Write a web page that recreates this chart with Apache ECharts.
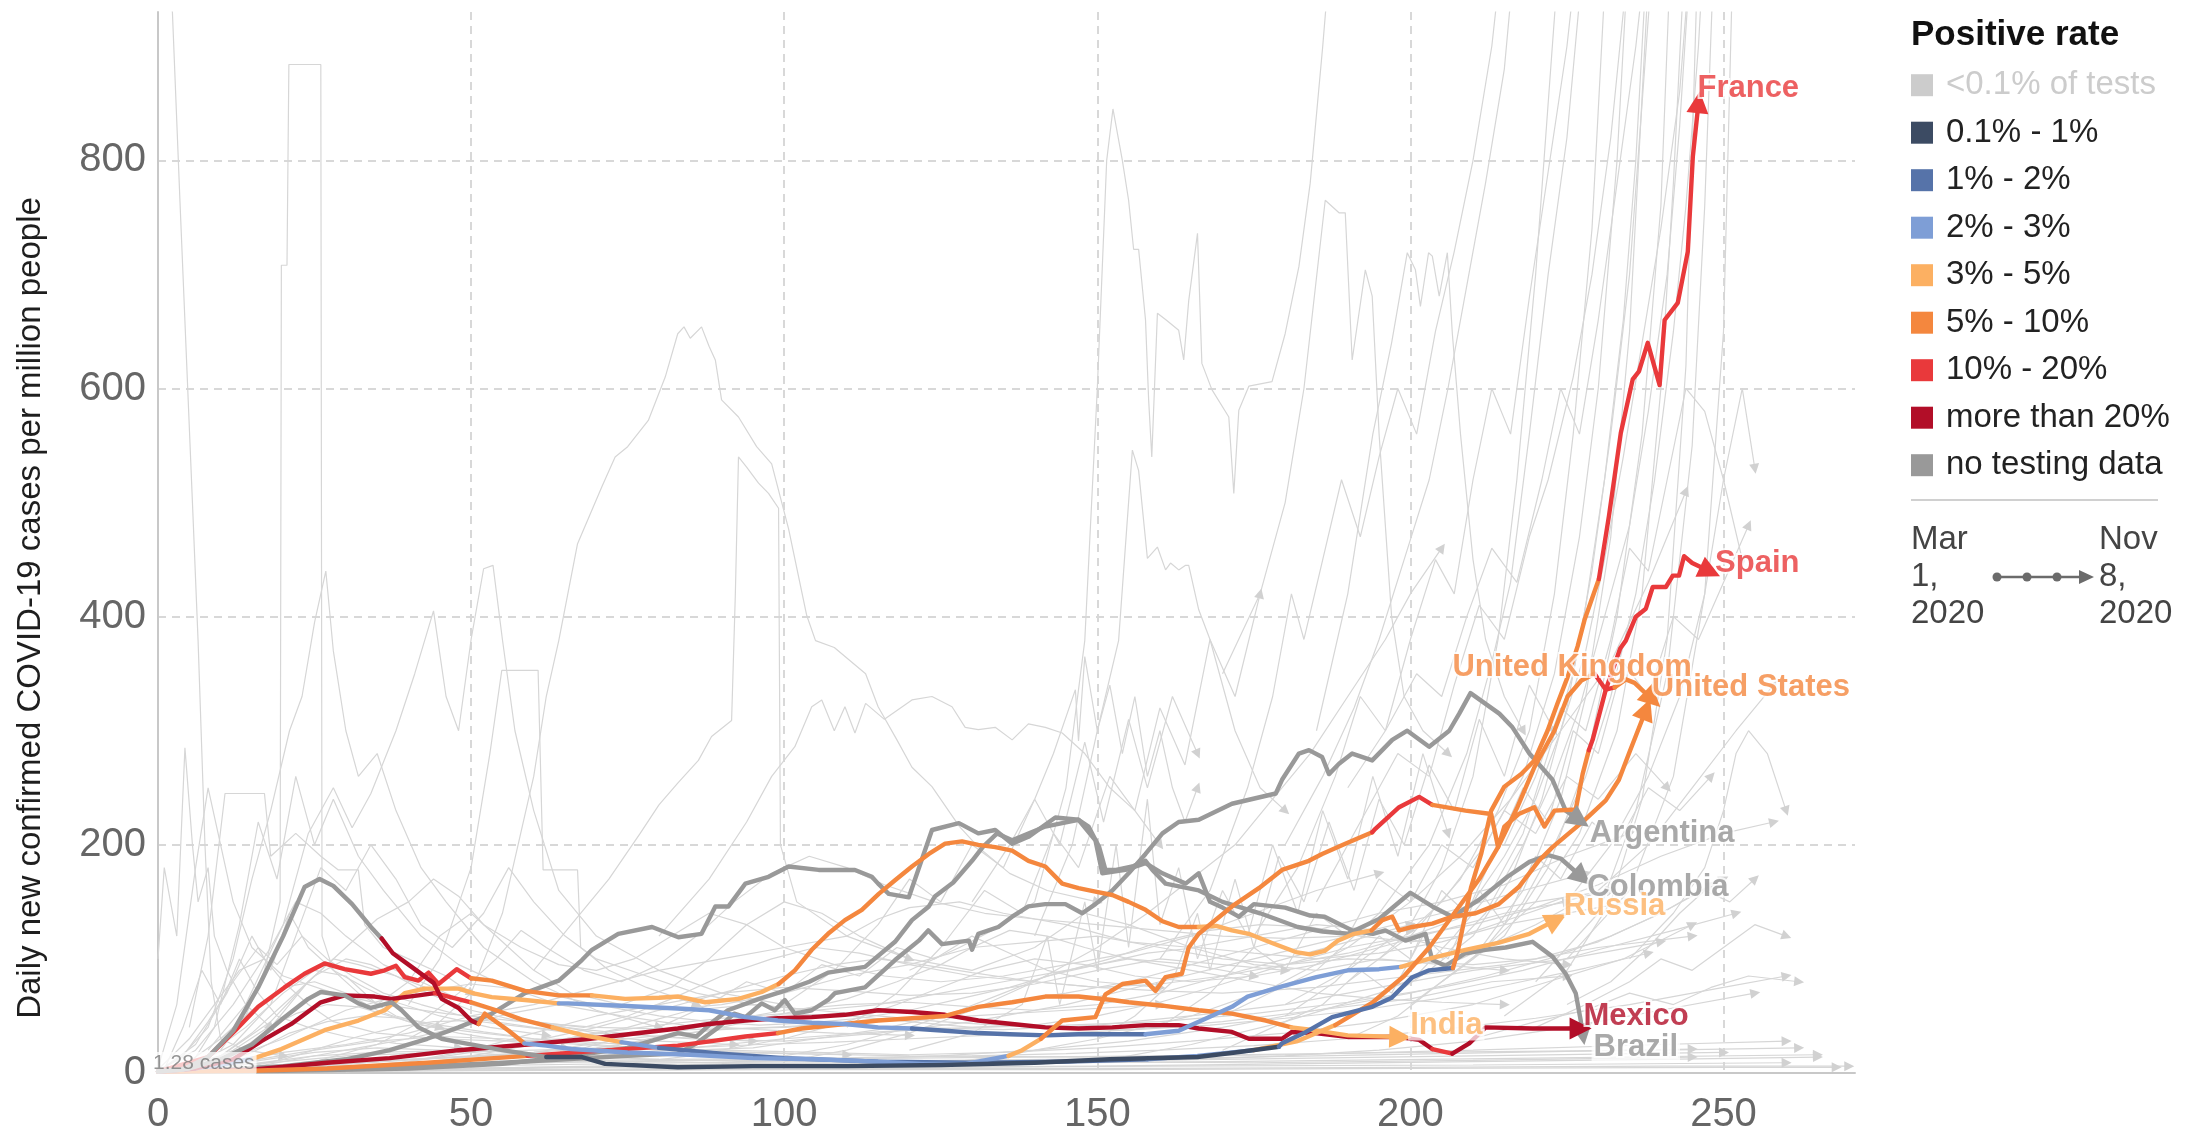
<!DOCTYPE html>
<html><head><meta charset="utf-8">
<script src="https://cdn.jsdelivr.net/npm/echarts@6/dist/echarts.min.js"></script>
<style>html,body{margin:0;padding:0;background:#fff}#c{width:2190px;height:1137px}</style>
</head><body><div id="c"></div>
<script>
// ---------- axis ticks ----------
const xTickValues = [0, 50, 100, 150, 200, 250];
const yTickValues = [0, 200, 400, 600, 800];

// ---------- legend ----------
const rateKeys = ['z', 'n', 'b', 'l', 'o', 'O', 'r', 'R', 'g'];
const rateLabels = ['<0.1% of tests', '0.1% - 1%', '1% - 2%', '2% - 3%', '3% - 5%', '5% - 10%', '10% - 20%', 'more than 20%', 'no testing data'];

// ---------- highlighted countries: [day, cases per million, positive-rate class] ----------
const spain = [[0,1.3,'g'],[4,3,'g'],[8,14,'g'],[12,37,'g'],[16,75,'g'],[20,120,'g'],[23.4,163,'g'],[25.8,170,'g'],[28,164,'g'],[31,148,'g'],[34,128,'g'],[35.7,118,'g'],[37.5,105,'R'],[40.5,93,'R'],[44,79,'R'],[45.3,65,'R'],[48,57,'R'],[50,46,'R'],[51.2,43,'R'],[52.2,52,'O'],[56,37,'O'],[58.5,26,'O'],[62,24,'l'],[66,21,'l'],[75,18,'l'],[85,16,'l'],[95,13,'l'],[105,12,'l'],[115,10,'l'],[122,8,'l'],[129,8,'l'],[135.8,15,'l'],[138,20,'o'],[141,30,'o'],[144.4,46,'O'],[149.7,49,'O'],[151.3,69,'O'],[154,78,'O'],[157.7,81,'O'],[159.3,72,'O'],[160.9,84,'O'],[163.5,87,'O'],[164.6,110,'O'],[166.2,122,'O'],[171.5,146,'O'],[175.8,162,'O'],[179.5,178,'O'],[183.8,186,'O'],[185.9,192,'O'],[189.6,201,'O'],[193.9,211,'O'],[194.4,214,'r'],[198.2,233,'r'],[201.4,242,'r'],[203.5,235,'r'],[205.6,233,'O'],[208.8,230,'O'],[212.9,227,'O'],[214,198,'O'],[215,216,'O'],[217.3,227,'O'],[219.8,233,'O'],[221.4,216,'O'],[223,230,'O'],[226.4,231,'O'],[227.5,262,'O'],[228.5,283,'O'],[229.1,292,'r'],[231.2,336,'r'],[233.5,372,'r'],[234.4,379,'r'],[236,400,'r'],[237.6,407,'r'],[238.7,426,'r'],[240.8,426,'r'],[241.9,436,'r'],[242.9,436,'r'],[243.7,453,'r'],[245,447,'r'],[247.7,440,'r']];
const france = [[0,1.3,'g'],[5,4,'g'],[10,12,'g'],[15,25,'g'],[20,48,'g'],[24,65,'g'],[26,71,'g'],[29.8,68,'g'],[32,61,'g'],[34,57,'g'],[37.3,62,'g'],[38.9,55,'g'],[41.6,40,'g'],[45.3,30,'g'],[48,27,'g'],[55,20,'g'],[62,14,'g'],[67.7,14,'n'],[71.4,8,'n'],[83,5,'n'],[95,6,'n'],[110,6,'n'],[125,7,'n'],[140,9,'n'],[152,12,'n'],[166,14,'n'],[172,18,'n'],[179,23,'n'],[179.5,26,'b'],[183,35,'b'],[187.5,49,'b'],[193.9,58,'b'],[197,66,'b'],[200.3,84,'b'],[203,90,'b'],[206.8,92,'b'],[207.5,105,'O'],[208.6,134,'O'],[209.7,163,'O'],[211.3,192,'O'],[212.9,230,'O'],[215,251,'O'],[217.7,262,'O'],[219.8,274,'O'],[221.9,300,'O'],[223.5,324,'O'],[225.1,347,'O'],[226.7,374,'O'],[227.8,397,'O'],[230.1,433,'O'],[231.7,488,'r'],[233.6,561,'r'],[235.5,608,'r'],[236.5,615,'r'],[237.9,640,'r'],[239.8,603,'r'],[240.6,660,'r'],[242.7,675,'r'],[244.3,720,'r'],[245.1,803,'r'],[246,850,'r']];
const unitedKingdom = [[0,1.3,'R'],[6,4,'R'],[12,12,'R'],[16.5,28,'R'],[21.3,43,'R'],[26,62,'R'],[29.8,68,'R'],[34.6,67,'R'],[37.3,65,'R'],[41.6,68,'R'],[44.2,70,'R'],[47,66,'r'],[50,62,'r'],[54,55,'O'],[58,47,'O'],[63,40,'O'],[68,33,'o'],[74,27,'o'],[80,22,'l'],[90,17,'b'],[100,13,'b'],[115,10,'b'],[130,9,'b'],[145,10,'b'],[158,12,'b'],[166,15,'l'],[175,20,'l'],[182,28,'o'],[188,42,'o'],[194,62,'O'],[199,85,'O'],[203,110,'O'],[207,140,'O'],[211,170,'O'],[214,198,'O'],[217,232,'O'],[219.8,268,'O'],[223,300,'O'],[225.1,330,'O'],[227.3,344,'O'],[229.4,350,'O'],[231.2,336,'r'],[232.6,338,'r'],[234.4,345,'O'],[235.8,342,'O'],[238.5,328,'O']];
const unitedStates = [[0,1.3,'r'],[8,14,'r'],[12.3,37,'r'],[16,58,'r'],[20.2,75,'r'],[23.4,87,'r'],[26.6,96,'r'],[29.8,91,'r'],[34,87,'r'],[36.2,90,'r'],[38,94,'r'],[39.4,84,'r'],[41.6,81,'r'],[43.2,88,'r'],[44.8,78,'r'],[47.7,91,'r'],[50,83,'r'],[53.3,81,'O'],[58.6,72,'O'],[64,68,'O'],[69.3,68,'O'],[74.6,65,'o'],[80,66,'o'],[83.1,67,'o'],[87.4,62,'o'],[92.7,65,'o'],[96.4,71,'o'],[99.1,78,'o'],[101.7,90,'O'],[104.4,108,'O'],[107,122,'O'],[109.7,134,'O'],[112.4,143,'O'],[115.1,157,'O'],[117.7,169,'O'],[120.4,181,'O'],[123.1,192,'O'],[125.7,201,'O'],[128.4,203,'O'],[131,200,'O'],[133.7,198,'O'],[136.4,195,'O'],[139,186,'O'],[141.7,181,'O'],[144.4,166,'O'],[147,162,'O'],[149.7,159,'O'],[152.4,156,'O'],[155,150,'O'],[157.7,143,'O'],[160.4,133,'O'],[163,128,'O'],[166.2,128,'O'],[169,129,'o'],[171.5,125,'o'],[174.2,122,'o'],[177.9,114,'o'],[181.7,106,'o'],[184,104,'o'],[186.3,107,'o'],[188.4,116,'o'],[191,122,'o'],[193.8,125,'o'],[195.5,134,'O'],[197.1,137,'O'],[198.2,125,'O'],[200.3,128,'O'],[203.5,131,'O'],[206.7,137,'O'],[210.4,140,'O'],[214.1,148,'O'],[217.3,163,'O'],[220.5,186,'O'],[222.7,198,'O'],[225.3,210,'O'],[227.9,222,'O'],[231.2,239,'O'],[233.3,257,'O'],[234.9,280,'O'],[237.6,318,'O']];
const russia = [[0,1.3,'l'],[6,4,'l'],[10,7,'l'],[15.4,13,'l'],[19.7,21,'o'],[26.6,37.5,'o'],[32,46,'o'],[36.2,55,'o'],[39.4,70,'o'],[42.6,74,'o'],[48,74,'o'],[50.6,69.5,'o'],[53.3,66.5,'o'],[58.6,64,'o'],[64,61,'o'],[65.5,61,'l'],[74,59,'l'],[83,56.5,'l'],[88,55,'l'],[93.8,49,'l'],[99,46,'l'],[104.4,44,'l'],[109.7,43,'l'],[115,40,'l'],[120.4,39,'l'],[125.7,37,'b'],[131,35,'b'],[136,34,'b'],[142,33,'b'],[147,34,'b'],[152,34,'b'],[157.7,34,'b'],[163,37,'l'],[166.2,45,'l'],[171.5,58,'l'],[174,67,'l'],[179.5,76,'l'],[185,84,'l'],[190,90,'l'],[195,91,'l'],[198.5,93,'l'],[203.5,101,'o'],[208.8,108,'o'],[214,114,'o'],[219,122,'o'],[223.2,134,'o']];
const india = [[0,1.3,'O'],[15,2,'O'],[27,4,'O'],[43,9,'O'],[59,15,'O'],[69,19,'r'],[83,24,'r'],[88.4,28,'r'],[93.8,32,'r'],[99,35,'r'],[102.8,39,'O'],[109.7,43,'O'],[115,46,'O'],[120.4,48,'O'],[125.7,50,'O'],[131,58,'O'],[136.4,62,'O'],[141.7,67,'O'],[147,67,'O'],[152.4,64,'O'],[155,62,'O'],[160.4,59,'O'],[166.2,55,'O'],[171.5,52,'O'],[176.9,46,'O'],[181,40,'O'],[184,38,'o'],[190,33,'o'],[198.2,31.5,'o']];
const mexico = [[0,1.3,'R'],[15,3,'R'],[27,9,'R'],[37,13,'R'],[48,20,'R'],[59,25,'R'],[69,30,'R'],[83,39,'R'],[88,43,'R'],[93.8,46,'R'],[99,48,'R'],[104.4,49,'R'],[109.7,51,'R'],[115,55,'R'],[120.4,53.5,'R'],[125.7,51,'R'],[131,46,'R'],[136.4,43,'R'],[141.7,40,'R'],[147,39,'R'],[152.4,40,'R'],[157.7,42,'R'],[163,42,'R'],[166.2,39,'R'],[171.5,36,'R'],[174.2,30,'R'],[179.5,30,'R'],[181.1,36,'R'],[184.8,35,'R'],[190.2,31.5,'R'],[198.2,31.5,'R'],[201.4,29,'R'],[203.5,21,'R'],[206.7,17,'r'],[209.4,26,'R'],[212,40,'R'],[219.5,39,'R'],[223.7,39,'R'],[227,39,'R']];
const argentina = [[0,1.3,'g'],[20,3,'g'],[40,5,'g'],[55,9,'g'],[65,12,'g'],[75,15,'g'],[83,17,'g'],[86,26,'g'],[89.5,40,'g'],[92,52,'g'],[93.8,49,'g'],[96.4,61,'g'],[98.5,55,'g'],[100.1,64,'g'],[101.7,52,'g'],[104.4,55,'g'],[107,64,'g'],[108.1,70,'g'],[112.9,75,'g'],[117.7,99,'g'],[121.5,116,'g'],[123,125,'g'],[125.2,113,'g'],[129.5,116,'g'],[130,108,'g'],[131,122,'g'],[134.2,128,'g'],[136.4,137,'g'],[139,146,'g'],[141.7,148,'g'],[144.9,148,'g'],[147.6,140,'g'],[149.7,148,'g'],[152.4,160,'g'],[155,175,'g'],[157.7,192,'g'],[160.4,210,'g'],[163,220,'g'],[166.2,222,'g'],[171.5,236,'g'],[178.5,245,'g'],[179.5,257,'g'],[182.2,280,'g'],[183.8,283,'g'],[185.9,277,'g'],[187,262,'g'],[188.6,271,'g'],[190.7,280,'g'],[193.9,274,'g'],[197.1,292,'g'],[199.5,300,'g'],[203,286,'g'],[206.2,300,'g'],[207.8,315,'g'],[209.6,333,'g'],[214.2,315,'g'],[216.3,303,'g'],[219,280,'g'],[222.7,257,'g'],[224.8,230,'g'],[226.9,222,'g']];
const colombia = [[0,1.3,'g'],[20,2,'g'],[40,4,'g'],[55,8,'g'],[65,14,'g'],[75,22,'g'],[83,35,'g'],[86,32,'g'],[88.4,44,'g'],[91,55,'g'],[96,65,'g'],[100,72,'g'],[104,80,'g'],[107,88,'g'],[112.9,93,'g'],[117.7,115,'g'],[120.4,134,'g'],[123.1,146,'g'],[124.1,155,'g'],[127,167,'g'],[130,186,'g'],[131.7,198,'g'],[134,210,'g'],[136.4,204,'g'],[139,210,'g'],[141.7,216,'g'],[144.4,219,'g'],[147,222,'g'],[148.6,216,'g'],[150.3,198,'g'],[151.3,178,'g'],[153,178,'g'],[155.6,181,'g'],[157.7,186,'g'],[158.8,178,'g'],[160.9,166,'g'],[166.2,160,'g'],[170,150,'g'],[176,140,'g'],[182,128,'g'],[186,124,'g'],[190,122,'g'],[195,135,'g'],[200,158,'g'],[203.5,146,'g'],[206.7,137,'g'],[211,152,'g'],[215.5,172,'g'],[219,185,'g'],[222,191,'g'],[224,188,'g'],[227.3,172,'g']];
const brazil = [[0,1.3,'g'],[10,3,'g'],[20,6,'g'],[30,12,'g'],[37,20,'g'],[43,30,'g'],[48,40,'g'],[53.3,52,'g'],[58.6,70,'g'],[64,81,'g'],[67.7,99,'g'],[69.3,108,'g'],[73.5,122,'g'],[78.9,128,'g'],[83.1,119,'g'],[86.8,122,'g'],[89,146,'g'],[91.1,146,'g'],[93.8,166,'g'],[97.5,172,'g'],[100.7,181,'g'],[105.5,178,'g'],[111.3,178,'g'],[114,172,'g'],[115,166,'g'],[116.7,157,'g'],[119.9,154,'g'],[123.6,213,'g'],[127.9,219,'g'],[131,210,'g'],[133.7,213,'g'],[136.4,201,'g'],[139,207,'g'],[143.3,224,'g'],[147,222,'g'],[149.7,204,'g'],[150.8,175,'g'],[154.5,178,'g'],[157.7,184,'g'],[160.4,175,'g'],[164.1,166,'g'],[166.2,175,'g'],[168,150,'g'],[170,145,'g'],[172.6,137,'g'],[175,148,'g'],[180,145,'g'],[184,138,'g'],[186.3,137,'g'],[190.7,125,'g'],[194,122,'g'],[196,125,'g'],[199.2,116,'g'],[202.4,122,'g'],[203.5,99,'g'],[205.6,94,'g'],[208.8,105,'g'],[212,108,'g'],[215.2,110,'g'],[219.5,115,'g'],[222.7,102,'g'],[224.8,87,'g'],[226.4,70,'g'],[227.2,46,'g'],[227.5,35,'g']];

// ---------- other countries (thin grey lines): [day, cases per million] ----------
const bg01 = [[0,1000],[2.3,930],[3.5,765],[5.5,500],[6.4,379],[7.5,200],[8.5,80],[10,30],[14,20],[20,15]];
const bg02 = [[0,100],[1,180],[2,150],[3,120],[4.3,285],[5.5,200],[6.4,150],[8,180],[9,120],[11,90],[14,60],[18,40]];
const bg03 = [[10,20],[14,50],[17,90],[19.5,150],[19.7,708],[20.6,708],[20.9,884],[26,884],[26.2,120],[28,90],[32,70],[38,50],[45,40]];
const bg04 = [[3,10],[8,40],[12,100],[15,170],[18,230],[21,300],[23,330],[25,395],[26.8,440],[28,370],[30,300],[32,260],[35,280],[38,230],[42,180],[46,150],[52,110],[60,80],[70,55],[80,40]];
const bg05 = [[8,20],[14,60],[20,130],[24,210],[28,250],[31,215],[34,245],[38,300],[41,350],[44,405],[46,330],[48,300],[50,380],[52,442],[53.5,445],[55,380],[57,300],[60,230],[64,160],[70,120],[80,90],[90,70],[100,60]];
const bg06 = [[5,40],[8,120],[10.7,245],[17,245],[18,190],[22,210],[26,190],[28.8,178],[32,178],[33,130],[36,110],[40,100],[46,85],[50,70]];
const bg07 = [[40,60],[45,100],[50,180],[53,280],[54.9,353],[60.7,353],[61.5,178],[67,178],[67.5,110],[72,90],[78,75],[86,60]];
const bg08 = [[40,30],[45,45],[50,70],[55,140],[60,260],[62,330],[64,379],[67,464],[70.9,514],[73,540],[75,549],[78.3,572],[81,610],[83,648],[84,654],[85,644],[86.8,654],[88,637],[89,625],[90,590],[92.7,575],[95.6,549],[98,534],[100.7,477],[103.6,401],[105,379],[108,373],[113,350],[115,321],[118,292],[120.4,268],[123.6,251],[128,216],[131,198],[136,175],[142,160],[150,150]];
const bg09 = [[60,90],[66,130],[72,170],[77,210],[80,235],[83,254],[86.3,274],[88.4,295],[91.6,309],[92.2,420],[92.7,540],[94,531],[95.9,517],[97.5,508],[99.1,495],[99.4,200],[102,150],[110,120],[120,100]];
const bg10 = [[120,90],[128,110],[135,130],[140,150],[145,250],[148,379],[150,600],[151.5,800],[152.5,845],[154,800],[155,765],[155.8,722],[156.6,722],[157.7,660],[158.2,590],[158.7,540],[159.6,666],[161,660],[163,651],[163.8,625],[164.6,677],[166,736],[166.7,622],[168.3,599],[171,575],[171.8,508],[172.6,581],[174.2,602],[177.9,606],[180,648],[182.2,707],[184,780],[186,900],[187.5,1000]];
const bg11 = [[140,120],[146,200],[150,300],[153.4,379],[155.6,546],[156.6,528],[158,451],[159.6,461],[160.9,441],[161.7,447],[163,441],[164.1,445],[164.6,445],[166.2,406],[168,380],[172,300],[176,250],[180,230]];
const bg12 = [[180,60],[190,90],[200,130],[205,180],[210,260],[214,380],[217,520],[220,700],[222,850],[224,1000]];
const bg13 = [[170,50],[185,90],[195,140],[203,200],[209,280],[213,360],[216,430],[219,560],[222,700],[225,820],[228,1000]];
const bg14 = [[190,80],[200,120],[208,170],[214,230],[219,300],[223,420],[226,560],[229,740],[231.5,1000]];
const bg15 = [[195,100],[205,150],[212,200],[218,260],[223,350],[227,470],[230,600],[233,800],[235,1000]];
const bg16 = [[200,60],[210,100],[218,160],[224,240],[228,330],[232,470],[235,650],[238.4,1000]];
const bg17 = [[205,80],[215,120],[222,180],[228,270],[233,400],[237,560],[240,760],[241.7,1000]];
const bg18 = [[210,100],[220,150],[227,210],[233,300],[237,420],[240,600],[242,780],[244,1000]];
const bg19 = [[215,50],[225,90],[232,150],[237,240],[241,380],[244,620],[246,1000]];
const bg20 = [[220,80],[230,140],[236,230],[241,350],[245,550],[247,760],[248.6,1000]];
const bg21 = [[225,100],[235,160],[242,260],[247,420],[250,650],[251.6,1000]];
const bg22 = [[185,300],[190,420],[194,560],[197,640],[199.5,719],[200.8,704],[201.6,672],[202.9,719],[203.5,716],[204.6,681],[205.9,719],[206.7,648],[208,560],[210,450],[212,380],[215,330],[218,300]];
const bg23 = [[170,350],[176,420],[180,500],[183,600],[186.4,765],[188.6,754],[189.6,754],[190.7,625],[192.8,704],[193.9,681],[195,560],[197,400],[199,330],[202,300],[206,280]];
const bg24 = [[225,150],[232,200],[238,260],[243,330],[247,420],[250,520],[253,600],[255,530]];
const bg25 = [[235,100],[242,140],[247,180],[250,230],[252,280],[254,300],[257,280],[260,230]];
const bg26 = [[160,100],[168,160],[174,250],[178,330],[181,420],[183,380],[186,450],[189,520],[192,470],[195,540],[198,600],[201,560],[204,650],[207,720],[210,800],[213,900],[215,1000]];
const bg27 = [[175,120],[182,180],[188,260],[192,330],[196,300],[200,380],[204,450],[207,420],[210,520],[213,600],[216,560],[219,680],[222,790],[225,900],[227,1000]];
const bg28 = [[185,150],[192,220],[198,280],[203,260],[207,340],[211,410],[215,380],[219,470],[222,520],[226,610],[229,700],[232,820],[234,930],[235,1000]];
const bg29 = [[80,120],[88,170],[94,220],[98,260],[101.7,286],[104.4,321],[106,327],[108,300],[109.7,321],[111.3,298],[113,324],[116,310],[120.4,327],[123.6,330],[126.8,321],[128.9,303],[131,301],[133.7,303],[136.4,292],[139,306],[141.7,303],[144.4,298],[148,280],[152,250],[156,230],[160,200]];
const bg30 = [[130,150],[136,200],[140,240],[143,280],[146.5,336],[147,291],[148,365],[150,300],[152,340],[154,280],[156,330],[158,260],[160,300],[162,250],[164,220],[166,250]];
const lo01 = [[0,2],[6,20],[12,60],[18,110],[22,150],[26,140],[30,120],[36,95],[42,80],[50,60],[60,45],[70,35],[85,30],[100,28],[115,35],[130,45],[145,60],[160,80],[175,100],[190,120],[205,140],[218,160],[228,175]];
const lo02 = [[2,2],[10,10],[20,30],[30,55],[40,70],[50,78],[60,72],[70,60],[80,55],[90,60],[100,70],[110,85],[120,95],[130,110],[140,115],[150,120],[160,110],[170,100],[180,95],[190,105],[200,120],[210,140],[220,150],[232,160]];
const lo03 = [[0,1],[8,5],[16,12],[25,20],[35,28],[45,32],[55,30],[65,26],[75,22],[85,20],[95,22],[105,30],[115,38],[125,50],[135,62],[145,70],[155,80],[165,95],[175,110],[185,125],[195,140],[205,150],[215,165],[225,190],[235,210]];
const lo04 = [[5,3],[12,15],[18,40],[24,80],[28,100],[32,95],[38,85],[45,70],[52,58],[60,45],[68,40],[75,50],[82,65],[90,85],[98,100],[105,110],[112,105],[120,95],[130,85],[140,80],[150,75],[160,72],[170,70],[185,75],[200,85],[215,95],[230,110],[245,120]];
const lo05 = [[0,1],[10,8],[20,18],[30,25],[40,35],[50,50],[60,60],[70,75],[80,90],[90,100],[100,110],[110,120],[115,135],[120,145],[128,150],[135,140],[145,130],[155,115],[165,110],[175,120],[185,130],[195,125],[205,110],[215,100],[225,95]];
const lo06 = [[3,2],[10,6],[20,10],[30,15],[45,18],[60,20],[75,22],[90,20],[105,18],[120,16],[135,18],[150,22],[165,28],[180,35],[195,45],[210,60],[222,80],[234,100],[245,130]];
const lo07 = [[0,1],[7,12],[14,40],[20,70],[25,90],[30,85],[35,60],[40,80],[45,120],[50,140],[55,115],[60,90],[66,70],[74,60],[82,75],[88,100],[94,130],[100,150],[106,140],[112,120],[120,100],[130,90],[140,110],[148,140],[155,130],[165,110],[175,95],[185,90],[195,100],[205,95],[215,90]];
const lo08 = [[5,2],[15,8],[25,15],[35,18],[50,20],[65,15],[80,12],[95,10],[110,12],[125,15],[140,20],[155,28],[170,40],[185,55],[200,70],[212,85],[222,100],[232,120],[240,140],[248,165]];
const lo09 = [[0,3],[5,30],[9,60],[13,90],[17,100],[20,80],[24,60],[28,45],[35,35],[45,30],[55,28],[65,30],[75,40],[85,55],[95,60],[105,55],[115,50],[125,45],[140,40],[155,38],[170,45],[185,55],[200,65],[213,80],[225,85]];
const lo10 = [[10,1],[20,4],[30,8],[40,12],[50,15],[60,18],[70,22],[80,30],[90,40],[100,52],[110,65],[118,80],[125,95],[130,110],[136,125],[142,120],[148,110],[155,100],[165,90],[175,80],[185,70],[195,65],[205,62],[215,60]];
const lo11 = [[2,1],[8,4],[15,10],[25,18],[35,22],[45,20],[55,16],[65,12],[75,10],[90,9],[105,8],[120,8],[135,9],[150,10],[165,12],[180,15],[195,20],[210,28],[225,40],[240,55],[255,70]];
const lo12 = [[0,2],[6,8],[12,25],[18,60],[22,120],[26,180],[30,160],[34,200],[38,170],[42,130],[47,110],[52,140],[56,180],[60,150],[65,120],[70,100],[78,85],[86,70],[95,60],[105,55],[115,60],[125,70],[135,80],[145,90],[155,100],[165,95],[175,85]];
const lo13 = [[20,2],[30,5],[40,10],[50,18],[60,28],[70,40],[80,55],[90,70],[100,85],[108,95],[115,100],[122,95],[130,88],[140,80],[150,75],[160,78],[170,85],[180,95],[190,100],[200,98],[210,95],[220,100],[230,115],[240,140],[250,170]];
const lo14 = [[5,1],[15,3],[25,5],[40,7],[55,9],[70,10],[85,11],[100,12],[115,14],[130,15],[145,17],[160,20],[175,24],[190,30],[205,38],[220,48],[235,60],[250,75],[260,85]];
const lo15 = [[0,1],[10,15],[18,45],[24,80],[30,110],[35,135],[40,150],[44,170],[48,155],[52,130],[58,110],[64,95],[70,90],[76,100],[82,120],[88,140],[94,130],[100,110],[108,95],[116,85],[125,80],[135,85],[145,95],[155,105],[165,120],[175,140],[185,160],[195,175]];
const lo16 = [[8,1],[16,6],[24,14],[32,22],[40,30],[48,40],[56,52],[64,60],[72,58],[80,50],[88,45],[96,42],[104,44],[112,48],[120,55],[128,65],[136,75],[144,88],[152,100],[160,115],[168,125],[176,130],[184,128],[192,120],[200,115],[208,120],[216,135],[224,150],[232,160]];
const lo17 = [[0,1],[12,3],[24,6],[36,10],[48,14],[60,17],[72,20],[84,22],[96,25],[108,27],[120,30],[132,33],[144,35],[156,38],[168,42],[180,48],[192,55],[204,65],[216,78],[228,92],[238,105]];
const lo18 = [[15,1],[25,10],[35,25],[42,45],[48,70],[54,100],[58,125],[62,110],[68,90],[74,80],[80,95],[86,120],[92,150],[98,175],[104,190],[110,180],[116,165],[124,150],[132,140],[140,135],[150,130],[160,125],[170,120],[180,118],[190,120],[200,125]];
const lo19 = [[30,1],[40,6],[50,15],[60,25],[70,35],[80,42],[90,48],[100,52],[110,50],[120,45],[130,40],[140,42],[150,50],[160,62],[170,78],[180,95],[190,110],[200,120],[210,130],[220,145],[230,165],[240,190],[250,210],[258,220]];
const lo20 = [[40,2],[55,8],[70,15],[85,22],[100,30],[115,36],[130,40],[145,42],[160,45],[175,52],[190,62],[205,75],[218,90],[230,108],[242,125],[252,140]];
const lo21 = [[0,4],[3,60],[6,180],[8,250],[10,200],[12,150],[15,110],[20,85],[28,70],[36,60],[46,52],[58,45],[70,40],[85,38],[100,40],[115,45],[130,50],[145,55],[160,60]];
const lo22 = [[5,5],[9,40],[13,130],[16,220],[19,170],[22,260],[25,200],[28,240],[32,190],[36,160],[42,120],[48,95],[56,75],[64,60],[74,50],[84,42],[96,38],[108,35],[120,33]];
const lo23 = [[100,10],[110,20],[120,35],[130,55],[140,80],[150,110],[158,140],[165,170],[172,200],[178,240],[184,280],[190,330],[196,380],[200,420],[205,460]];
const lo24 = [[120,5],[135,15],[150,30],[165,50],[178,75],[190,110],[200,150],[208,190],[216,240],[224,300],[232,360],[238,430],[244,510]];
const lo25 = [[150,10],[165,25],[180,45],[195,70],[208,100],[220,130],[230,160],[238,200],[245,250],[252,300],[258,340]];
const lo26 = [[0,1],[30,3],[60,5],[90,6],[120,5],[150,6],[180,8],[210,10],[240,12],[265,14]];
const lo27 = [[5,1],[40,2],[80,3],[120,4],[160,4],[200,5],[240,6],[270,6]];
const lo28 = [[10,1],[50,4],[90,8],[130,10],[170,12],[210,15],[250,18]];
const lo29 = [[0,1],[35,6],[70,10],[105,12],[140,10],[175,9],[210,11],[245,14]];
const ex01 = [[120,20],[130,35],[138,60],[142,120],[144,60],[148,150],[150,90],[153,200],[155,110],[158,240],[160,130],[163,180],[166,100],[170,160],[174,120],[178,200],[182,140],[186,230],[190,170],[194,260],[198,190],[202,280],[206,210]];
const ex02 = [[150,30],[156,50],[162,80],[166,140],[168,90],[172,170],[175,110],[179,190],[183,150],[187,220],[191,160],[195,240],[199,200],[203,270],[207,230],[211,310],[215,260],[219,340],[223,300]];
const ex03 = [[160,40],[168,70],[175,110],[180,90],[185,140],[190,120],[195,170],[200,150],[205,200],[210,180],[215,230],[220,210],[225,260],[230,240],[236,280],[241,250]];
const ex04 = [[170,20],[178,40],[186,60],[192,90],[197,70],[202,120],[206,100],[211,160],[215,130],[220,190],[224,170],[229,220],[233,200],[238,250],[243,230],[248,260]];
const ex05 = [[180,50],[188,80],[195,120],[200,100],[205,160],[209,140],[214,200],[218,250],[222,220],[226,300],[230,280],[234,360],[238,330],[242,400],[246,380],[250,430],[254,480]];
const ex06 = [[190,30],[198,50],[205,80],[212,110],[218,150],[223,200],[228,260],[232,330],[236,420],[239,520],[242,650],[244,760],[246,900],[247,1000]];
const ex07 = [[195,60],[203,90],[210,120],[216,170],[221,240],[225,320],[228,410],[231,520],[234,660],[236,800],[238,1000]];
const ex08 = [[200,80],[207,120],[213,160],[218,210],[222,280],[226,350],[229,440],[232,560],[235,700],[237,850],[239,1000]];
const ex09 = [[205,100],[212,140],[218,200],[223,260],[227,320],[231,400],[235,480],[238,580],[241,700],[243,830],[245,1000]];
const ex10 = [[180,200],[186,260],[191,320],[195,380],[199,450],[203,520],[206,600],[209,690],[212,780],[215,880],[217,1000]];
const ex11 = [[210,150],[215,190],[220,240],[224,300],[228,370],[231,450],[234,540],[237,640],[240,740],[243,860],[245,1000]];
const ex12 = [[190,250],[196,300],[201,350],[205,330],[209,400],[213,460],[217,430],[221,520],[224,600],[227,560],[230,660],[233,780],[236,900],[238,1000]];
const ex13 = [[215,200],[220,260],[224,320],[228,300],[232,380],[235,460],[238,440],[241,520],[244,600],[247,580],[250,520],[253,450]];
const ex14 = [[220,40],[228,60],[235,80],[240,100],[245,90],[250,110],[255,130],[260,120]];
const ex15 = [[225,60],[232,80],[238,110],[243,140],[247,160],[251,150],[255,170]];
const ex16 = [[210,30],[220,45],[228,55],[235,70],[242,60],[248,75],[254,85],[262,80]];
const ex17 = [[0,1],[5,10],[10,30],[15,55],[20,75],[25,80],[30,70],[35,55],[40,45],[48,35],[56,28],[65,22]];
const ex18 = [[2,1],[7,8],[12,20],[17,38],[22,52],[27,60],[32,58],[37,50],[42,42],[50,36],[60,30],[72,26],[85,22]];
const ex19 = [[0,2],[4,15],[8,45],[12,80],[16,110],[19,95],[23,120],[27,100],[31,85],[36,70],[42,60],[50,48],[60,40],[72,32]];
const ex20 = [[3,1],[9,6],[15,18],[21,35],[27,45],[33,50],[39,48],[45,42],[52,36],[60,30],[70,25],[80,20],[95,18],[110,16]];
const ex21 = [[0,1],[6,25],[11,70],[15,120],[18,90],[21,140],[24,110],[28,90],[33,75],[38,62],[45,50],[53,40],[62,33]];
const ex22 = [[5,2],[10,15],[15,35],[20,60],[25,85],[30,100],[34,95],[38,85],[43,70],[50,55],[58,45],[68,38],[80,32],[95,28]];
const ex23 = [[1,3],[4,40],[7,90],[10,60],[13,100],[16,70],[19,50],[24,40],[30,32],[38,26],[48,22]];
const ex24 = [[8,1],[14,5],[20,12],[26,22],[32,32],[38,40],[44,45],[50,46],[56,42],[62,38],[70,32],[80,28],[92,25]];
const ex25 = [[40,10],[50,20],[60,35],[70,50],[80,60],[90,70],[100,75],[110,72],[120,68],[130,70],[140,78],[150,90],[160,100],[170,95],[180,90]];
const ex26 = [[50,5],[60,12],[70,20],[80,32],[90,45],[100,55],[110,60],[120,62],[130,58],[140,55],[150,60],[160,70],[170,85],[180,100],[190,115],[200,130]];
const ex27 = [[60,10],[70,25],[80,40],[88,60],[94,80],[100,70],[106,95],[112,85],[118,110],[124,100],[130,120],[136,105],[142,90],[150,80],[160,75]];
const ex28 = [[30,5],[45,10],[60,18],[75,30],[90,38],[105,42],[120,40],[135,38],[150,42],[165,50],[180,60],[195,75],[210,90],[225,100],[240,115]];
const ex29 = [[70,5],[85,15],[100,30],[110,45],[118,60],[125,75],[132,90],[140,100],[148,95],[156,85],[165,80],[175,85],[185,95],[195,110],[205,125],[215,140],[225,150]];
const ex30 = [[90,8],[100,15],[110,25],[120,40],[128,55],[135,70],[142,85],[150,95],[158,105],[166,110],[175,105],[185,100],[195,105],[205,115],[215,130],[225,140],[235,150]];
const ex31 = [[0,1],[50,2],[100,3],[150,3],[200,4],[250,5],[268,5]];
const ex32 = [[10,1],[60,3],[110,5],[160,6],[210,7],[260,9]];
const ex33 = [[0,2],[40,8],[80,12],[120,13],[160,15],[200,18],[240,20],[262,22]];
const ex34 = [[20,1],[70,5],[120,8],[170,10],[220,13],[265,16]];
const ex35 = [[0,1],[30,10],[60,16],[90,18],[120,15],[150,14],[180,16],[210,20],[240,25],[260,28]];
const ex36 = [[5,1],[45,6],[85,9],[125,11],[165,13],[205,17],[245,21]];
const ex37 = [[100,60],[108,90],[115,130],[120,170],[125,150],[130,200],[135,180],[140,240],[144,200],[148,290],[151,220],[155,310],[158,250],[162,330],[166,280]];
const ex38 = [[110,40],[118,70],[125,110],[132,160],[138,140],[143,210],[147,180],[152,260],[156,230],[160,320],[164,270],[168,380],[172,330],[176,420]];

const background = [bg01,bg02,bg03,bg04,bg05,bg06,bg07,bg08,bg09,bg10,bg11,bg12,bg13,bg14,bg15,bg16,bg17,bg18,bg19,bg20,bg21,bg22,bg23,bg24,bg25,bg26,bg27,bg28,bg29,bg30,
  lo01,lo02,lo03,lo04,lo05,lo06,lo07,lo08,lo09,lo10,lo11,lo12,lo13,lo14,lo15,lo16,lo17,lo18,lo19,lo20,lo21,lo22,lo23,lo24,lo25,lo26,lo27,lo28,lo29,
  ex01,ex02,ex03,ex04,ex05,ex06,ex07,ex08,ex09,ex10,ex11,ex12,ex13,ex14,ex15,ex16,ex17,ex18,ex19,ex20,ex21,ex22,ex23,ex24,ex25,ex26,ex27,ex28,ex29,ex30,ex31,ex32,ex33,ex34,ex35,ex36,ex37,ex38];

// ---------- styles ----------
const RATE_COLOR = {z:'#cccccc', n:'#3c4b63', b:'#5673a9', l:'#7e9ed6', o:'#fcb062', O:'#f4873e', r:'#e9393b', R:'#b20e28', g:'#999999'};
const FONT = '"Liberation Sans", Arial, sans-serif';
const Y_MAX = 930, X_MAX = 271;

const countries = [
  {name:'Brazil', data:brazil, labelColor:'#939393', offset:[4,14], bg:true},
  {name:'Colombia', data:colombia, labelColor:'#939393', offset:[1,11]},
  {name:'Argentina', data:argentina, labelColor:'#939393', offset:[6,14]},
  {name:'Mexico', data:mexico, labelColor:'#b20e28', offset:[-1,-12]},
  {name:'India', data:india, labelColor:'#fcb062', offset:[4,-12], bg:true},
  {name:'Russia', data:russia, labelColor:'#fcb062', offset:[3,-14]},
  {name:'United States', data:unitedStates, labelColor:'#f4873e', offset:[1,-23]},
  {name:'United Kingdom', data:unitedKingdom, labelColor:'#f4873e', offset:[-204,-31]},
  {name:'Spain', data:spain, labelColor:'#e9393b', offset:[1,-8]},
  {name:'France', data:france, labelColor:'#e9393b', offset:[-6,-15]}
];

function segments(arr) {
  const out = []; let cur = null;
  for (let i = 1; i < arr.length; i++) {
    const c = arr[i][2];
    if (!cur || cur.c !== c) { cur = {c: c, pts: [[arr[i-1][0], arr[i-1][1]]]}; out.push(cur); }
    cur.pts.push([arr[i][0], arr[i][1]]);
  }
  return out;
}

function arrowRenderer(list) {
  return function (params, api) {
    const a = list[params.dataIndex];
    const p1 = api.coord([a[0], a[1]]);
    const p0 = api.coord([a[2], a[3]]);
    let dx = p1[0] - p0[0], dy = p1[1] - p0[1];
    const len = Math.hypot(dx, dy) || 1; dx /= len; dy /= len;
    const L = a[5], W = a[5] * 0.5;
    const tip = [p1[0] + dx * L * 0.55, p1[1] + dy * L * 0.55];
    const bx = p1[0] - dx * L * 0.45, by = p1[1] - dy * L * 0.45;
    return {type:'polygon', shape:{points:[tip, [bx - dy * W, by + dx * W], [bx + dy * W, by - dx * W]]}, style:{fill:a[4]}};
  };
}

const series = [];
const bgArrows = [];
background.forEach(function (line) {
  series.push({type:'line', data:line, symbol:'none', showSymbol:false, silent:true, animation:false, z:1,
    lineStyle:{color:'#d6d6d6', width:1.2}});
  const n = line.length;
  if (line[n-1][1] < Y_MAX - 5) bgArrows.push([line[n-1][0], line[n-1][1], line[n-2][0], line[n-2][1], '#d1d1d1', 10]);
});
series.push({type:'custom', renderItem:arrowRenderer(bgArrows), data:bgArrows.map(a => [a[0], a[1]]), encode:{x:0, y:1}, z:2, silent:true, animation:false, clip:true});

const hlArrows = [];
const labelData = [];
countries.forEach(function (c, ci) {
  segments(c.data).forEach(function (s) {
    series.push({type:'line', data:s.pts, symbol:'none', showSymbol:false, silent:true, animation:false, z:3 + ci * 0.01,
      lineStyle:{color:RATE_COLOR[s.c], width:4.4, cap:'round', join:'round'}});
  });
  const n = c.data.length;
  const last = c.data[n-1], prev = c.data[n-2];
  hlArrows.push([last[0], last[1], prev[0], prev[1], RATE_COLOR[last[2]], 22]);
  const lbl = {show:true, position:'right', distance:5, formatter:c.name, color:c.labelColor, fontSize:31, fontWeight:'bold', fontFamily:FONT,
    offset:c.offset, textBorderColor:'#ffffff', textBorderWidth:4};
  if (c.bg) { lbl.backgroundColor = 'rgba(255,255,255,0.9)'; lbl.padding = [0, 2]; }
  labelData.push({value:[last[0], last[1]], label:lbl});
});
series.push({type:'custom', renderItem:arrowRenderer(hlArrows), data:hlArrows.map(a => [a[0], a[1]]), encode:{x:0, y:1}, z:6, silent:true, animation:false, clip:false});
series.push({type:'scatter', data:labelData, symbolSize:0, silent:true, animation:false, z:10});
// "1.28 cases" marker at the origin
series.push({type:'scatter', data:[{value:[0, 1.28], label:{show:true, position:'right', distance:5, formatter:'1.28 cases', offset:[-12, -8], fontSize:21, color:'#7a7a7a', fontFamily:FONT,
  backgroundColor:'rgba(255,255,255,0.92)', padding:[1,2], borderRadius:3}}], symbolSize:0, silent:true, animation:false, z:9});

// ---------- legend (graphic) ----------
const graphic = [];
graphic.push({type:'text', x:1911, y:35, silent:true, style:{text:'Positive rate', font:'bold 35px ' + FONT, fill:'#111', verticalAlign:'middle', textVerticalAlign:'middle'}});
rateKeys.forEach(function (k, i) {
  const cy = 85.2 + i * 47.5;
  graphic.push({type:'rect', silent:true, shape:{x:1911, y:cy - 11, width:22, height:22}, style:{fill:RATE_COLOR[k]}});
  graphic.push({type:'text', x:1946, y:cy, silent:true, style:{text:rateLabels[i], font:'33px ' + FONT, fill: k === 'z' ? '#cccccc' : '#222', verticalAlign:'middle', textVerticalAlign:'middle'}});
});
graphic.push({type:'line', silent:true, shape:{x1:1911, y1:500, x2:2158, y2:500}, style:{stroke:'#d0d0d0', lineWidth:2}});
['Mar', '1,', '2020'].forEach(function (t, i) {
  graphic.push({type:'text', x:1911, y:540 + i * 37, silent:true, style:{text:t, font:'33px ' + FONT, fill:'#444', verticalAlign:'middle', textVerticalAlign:'middle'}});
});
['Nov', '8,', '2020'].forEach(function (t, i) {
  graphic.push({type:'text', x:2099, y:540 + i * 37, silent:true, style:{text:t, font:'33px ' + FONT, fill:'#444', verticalAlign:'middle', textVerticalAlign:'middle'}});
});
graphic.push({type:'line', silent:true, shape:{x1:1997, y1:577, x2:2082, y2:577}, style:{stroke:'#6b6b6b', lineWidth:2.5}});
[1997, 2027, 2057].forEach(function (x) {
  graphic.push({type:'circle', silent:true, shape:{cx:x, cy:577, r:4.5}, style:{fill:'#6b6b6b'}});
});
graphic.push({type:'polygon', silent:true, shape:{points:[[2079,570],[2094,577],[2079,584]]}, style:{fill:'#6b6b6b'}});
// y axis title
graphic.push({type:'text', x:31, y:608, rotation:Math.PI / 2, silent:true, style:{text:'Daily new confirmed COVID-19 cases per million people', font:'33px ' + FONT, fill:'#1e1e1e', align:'center', verticalAlign:'middle', textAlign:'center', textVerticalAlign:'middle'}});

const chart = echarts.init(document.getElementById('c'), null, {renderer:'canvas'});
chart.setOption({
  backgroundColor:'#ffffff',
  animation:false,
  textStyle:{fontFamily:FONT},
  grid:{left:158, top:12, width:1697, height:1061, containLabel:false},
  xAxis:{type:'value', min:0, max:X_MAX, interval:50,
    axisLine:{show:true, lineStyle:{color:'#c8c8c8', width:2}},
    axisTick:{show:false},
    axisLabel:{fontSize:40, color:'#666666', fontFamily:FONT, margin:22, showMaxLabel:false,
      formatter:function (v) { return xTickValues.indexOf(v) >= 0 ? String(v) : ''; }},
    splitLine:{show:true, showMinLine:false, showMaxLine:false, lineStyle:{type:[8,6], color:'#d8d8d8', width:2}}},
  yAxis:{type:'value', min:0, max:Y_MAX, interval:200,
    axisLine:{show:true, lineStyle:{color:'#c8c8c8', width:2}},
    axisTick:{show:false},
    axisLabel:{fontSize:40, color:'#666666', fontFamily:FONT, margin:12, showMaxLabel:false,
      formatter:function (v) { return yTickValues.indexOf(v) >= 0 ? String(v) : ''; }},
    splitLine:{show:true, showMinLine:false, showMaxLine:false, lineStyle:{type:[8,6], color:'#d8d8d8', width:2}}},
  graphic:graphic,
  series:series
});
</script>
</body></html>
